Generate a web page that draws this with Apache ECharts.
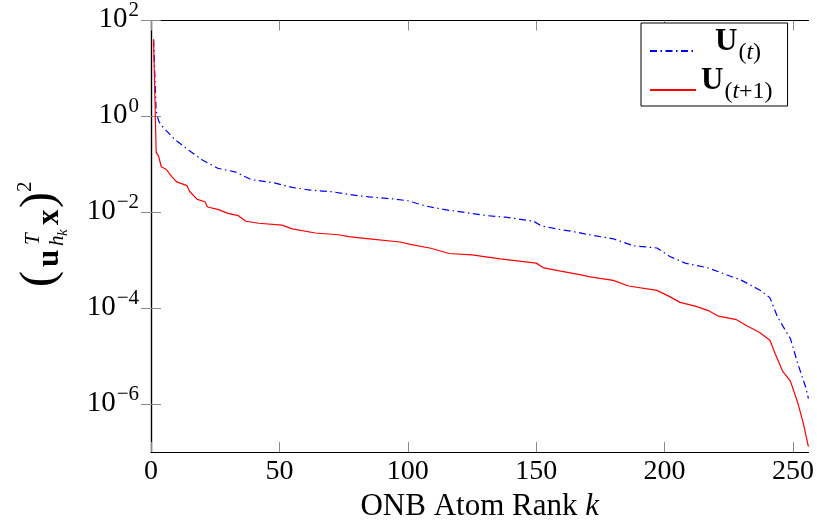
<!DOCTYPE html>
<html>
<head>
<meta charset="utf-8">
<script src="https://cdn.jsdelivr.net/npm/echarts@6/dist/echarts.min.js"></script>
<style>
html,body{margin:0;padding:0;background:#fff}
#chart{width:817px;height:528px}
</style>
</head>
<body>
<div id="chart"></div>
<script>
// rank k and squared coefficient
var kBlue = [1,2,3,4,9,14,20,26,33,39,48,55,62,70,81,85,94,100,107,115,123,131,138,149,152,159,165,172,180,188,197,202,208,217,224,230,237,241,244,249,252,255,256];
var blueVals = [40,1.3,0.8,0.65,0.34,0.21,0.123,0.083,0.069,0.048,0.041,0.033,0.029,0.027,0.022,0.021,0.019,0.0174,0.0135,0.0112,0.0098,0.0085,0.0079,0.0065,0.0052,0.0044,0.0039,0.0033,0.0028,0.0020,0.0018,0.0012,8.7e-4,6.9e-4,5.0e-4,3.8e-4,2.4e-4,1.66e-4,6.5e-5,2.3e-5,6.6e-6,2.2e-6,1.3e-6];

var kRed = [1,2,3,4,6,8,10,14,15,18,21,22,26,30,34,37,42,51,55,64,73,77,85,97,101,109,116,125,136,150,153,159,167,171,180,186,197,202,206,212,217,221,228,232,237,241,243,246,249,252,254,256];
var redVals = [40,0.18,0.145,0.089,0.078,0.056,0.043,0.036,0.0275,0.0186,0.0166,0.0129,0.0115,0.0095,0.0085,0.0065,0.0059,0.0054,0.0045,0.0037,0.0034,0.0031,0.0028,0.0024,0.00214,0.00178,0.00138,0.00129,0.00107,8.7e-4,6.9e-4,6.0e-4,5.0e-4,4.5e-4,3.8e-4,2.9e-4,2.35e-4,1.74e-4,1.32e-4,1.10e-4,8.9e-5,6.8e-5,5.75e-5,4.3e-5,3.1e-5,2.14e-5,1.15e-5,4.8e-6,3.0e-6,1.0e-6,4.0e-7,1.3e-7];

var xTicks = [0,50,100,150,200,250];
var yTicks = [1e-6,1e-4,1e-2,1,100];

var serif = 'Liberation Serif';
var myChart = echarts.init(document.getElementById('chart'));

function pairs(ks, vs) {
    var out = [];
    for (var i = 0; i < ks.length; i++) {
        out.push([ks[i], vs[i]]);
    }
    return out;
}

// 10^n labels for the log axis
function powLabel(v) {
    var e = Math.round(Math.log(v) / Math.LN10);
    var s = e < 0 ? '\u2212' + (-e) : '' + e;
    return '{b|10}{s|' + s + '}';
}

var lineStyle = {show: true, lineStyle: {color: '#000', width: 1.2}};
var tickLine = {color: '#8a8a8a', width: 1};

var option = {
    animation: false,
    backgroundColor: '#fff',
    grid: {left: 151, right: 8, top: 13, bottom: 76},
    xAxis: [
        {
            type: 'value', position: 'bottom', min: 0, max: 256,
            axisLine: lineStyle,
            axisTick: {show: true, inside: true, length: 10, customValues: xTicks, lineStyle: tickLine},
            axisLabel: {customValues: xTicks, margin: 6, fontFamily: serif, fontSize: 28, color: '#000'},
            splitLine: {show: false},
            name: '{n|ONB Atom Rank }{i|k}',
            nameLocation: 'middle', nameGap: 33,
            nameTextStyle: {rich: {
                n: {fontFamily: serif, fontSize: 31, color: '#000'},
                i: {fontFamily: serif, fontSize: 31, fontStyle: 'italic', color: '#000'}
            }}
        },
        {
            type: 'value', position: 'top', min: 0, max: 256,
            axisLine: lineStyle,
            axisTick: {show: true, inside: true, length: 10, customValues: xTicks, lineStyle: tickLine},
            axisLabel: {show: false},
            splitLine: {show: false}
        }
    ],
    yAxis: [
        {
            type: 'log', logBase: 10, position: 'left', min: 1e-7, max: 100,
            axisLine: lineStyle,
            axisTick: {show: true, inside: true, length: 10, customValues: yTicks, lineStyle: tickLine},
            axisLabel: {
                customValues: yTicks, margin: 12,
                formatter: powLabel,
                rich: {
                    b: {fontFamily: serif, fontSize: 29, color: '#000', verticalAlign: 'bottom', lineHeight: 27},
                    s: {fontFamily: serif, fontSize: 21, color: '#000', verticalAlign: 'bottom', lineHeight: 20, padding: [0, 0, 13, 1]}
                }
            },
            splitLine: {show: false}
        },
        {
            type: 'log', logBase: 10, position: 'right', min: 1e-7, max: 100,
            axisLine: lineStyle,
            axisTick: {show: true, inside: true, length: 10, customValues: yTicks, lineStyle: tickLine},
            axisLabel: {show: false},
            splitLine: {show: false}
        }
    ],
    legend: {
        left: 641, top: 23, orient: 'vertical',
        padding: [3, 15, 2, 8],
        itemWidth: 46, itemHeight: 14, itemGap: 0,
        borderColor: '#000', borderWidth: 1, borderRadius: 0,
        backgroundColor: '#fff',
        itemStyle: {opacity: 0},
        data: ['U(t)', 'U(t+1)'],
        formatter: function (name) {
            if (name == 'U(t)') {
                return '{sp| }{b|U}{s|(}{si|t}{s|)}';
            }
            return '{b|U}{s|(}{si|t}{s|+1)}';
        },
        textStyle: {
            rich: {
                sp: {width: 14, fontSize: 10},
                b: {fontFamily: serif, fontSize: 31, fontWeight: 'bold', color: '#000', verticalAlign: 'bottom', lineHeight: 28, padding: [0, 1, 8, 0]},
                s: {fontFamily: serif, fontSize: 24, color: '#000', verticalAlign: 'bottom', lineHeight: 23},
                si: {fontFamily: serif, fontSize: 24, fontStyle: 'italic', color: '#000', verticalAlign: 'bottom', lineHeight: 23}
            }
        }
    },
    graphic: [{
        type: 'group',
        x: 60, y: 287,
        rotation: Math.PI / 2,
        children: [
            {type: 'text', x: 0, y: -20, style: {text: '(', fontFamily: serif, fontSize: 48, fill: '#000', verticalAlign: 'middle'}},
            {type: 'text', x: 20, y: -10, style: {text: 'u', fontFamily: serif, fontSize: 31, fontWeight: 'bold', fill: '#000', verticalAlign: 'middle'}},
            {type: 'text', x: 42, y: -27, style: {text: 'T', fontFamily: serif, fontSize: 21, fontStyle: 'italic', fill: '#000', verticalAlign: 'middle'}},
            {type: 'text', x: 41, y: -3, style: {text: 'h', fontFamily: serif, fontSize: 21, fontStyle: 'italic', fill: '#000', verticalAlign: 'middle'}},
            {type: 'text', x: 51, y: 3, style: {text: 'k', fontFamily: serif, fontSize: 15, fontStyle: 'italic', fill: '#000', verticalAlign: 'middle'}},
            {type: 'text', x: 62, y: -10, style: {text: 'x', fontFamily: serif, fontSize: 31, fontWeight: 'bold', fill: '#000', verticalAlign: 'middle'}},
            {type: 'text', x: 79, y: -20, style: {text: ')', fontFamily: serif, fontSize: 48, fill: '#000', verticalAlign: 'middle'}},
            {type: 'text', x: 95, y: -35, style: {text: '2', fontFamily: serif, fontSize: 21, fill: '#000', verticalAlign: 'middle'}}
        ]
    }],
    series: [
        {
            name: 'U(t)',
            type: 'line',
            showSymbol: false, symbol: 'none',
            color: '#0000ff',
            lineStyle: {color: '#0000ff', width: 1.2, type: [7, 3.5, 1.5, 3.5]},
            data: pairs(kBlue, blueVals)
        },
        {
            name: 'U(t+1)',
            type: 'line',
            showSymbol: false, symbol: 'none',
            color: '#ff0000',
            lineStyle: {color: '#ff0000', width: 1.2},
            data: pairs(kRed, redVals)
        }
    ]
};
myChart.setOption(option);
</script>
</body>
</html>
